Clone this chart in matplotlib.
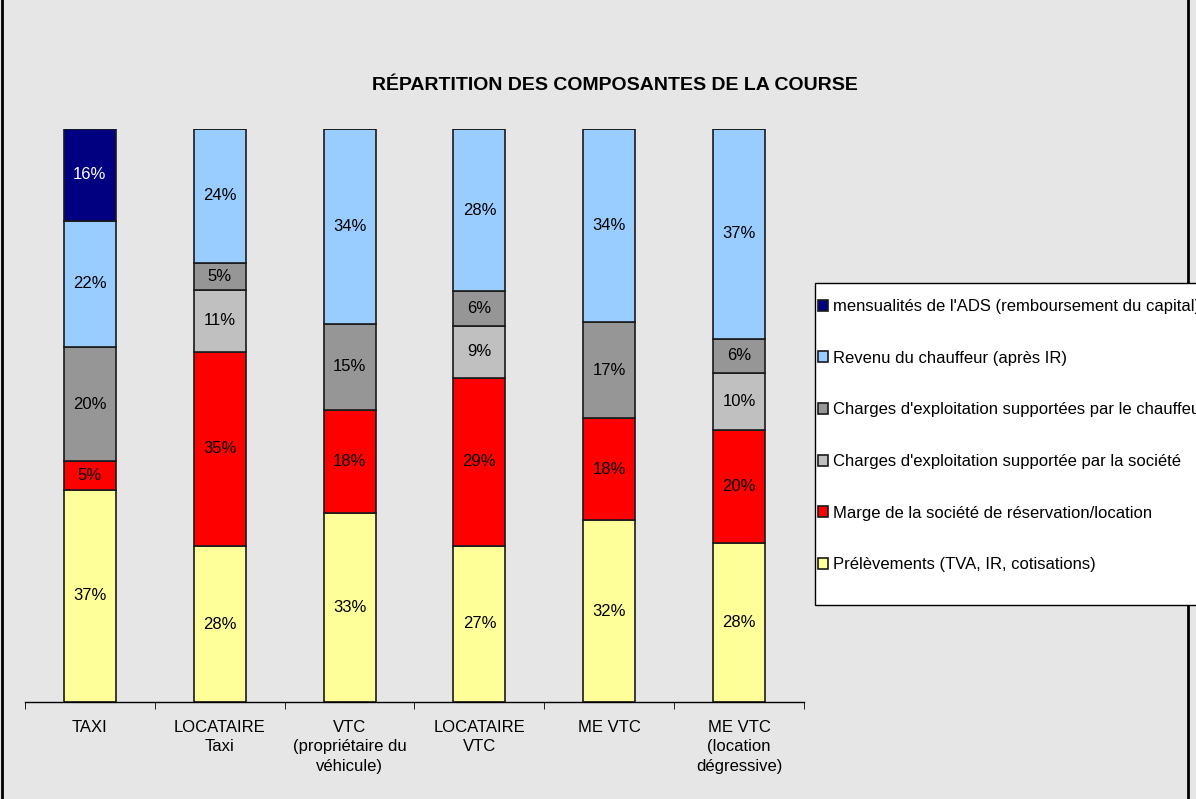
import matplotlib
matplotlib.use("Agg")
from matplotlib import pyplot as plt
from matplotlib.lines import Line2D
from matplotlib.patches import Rectangle
import numpy as np

plt.rcParams['font.family'] = ['Liberation Sans', 'DejaVu Sans']

# categories on the x axis
categories = ["TAXI", "LOCATAIRE\nTaxi", "VTC\n(propriétaire du\nvéhicule)",
              "LOCATAIRE\nVTC", "ME VTC", "ME VTC\n(location\ndégressive)"]

# series, bottom to top of the stack (values in %)
prelevements = [37, 28, 33, 27, 32, 28]
marge = [5, 35, 18, 29, 18, 20]
charges_societe = [0, 11, 0, 9, 0, 10]
charges_chauffeur = [20, 5, 15, 6, 17, 6]
revenu = [22, 24, 34, 28, 34, 37]
mensualites = [16, 0, 0, 0, 0, 0]

series_names = ["Prélèvements (TVA, IR, cotisations)",
                "Marge de la société de réservation/location",
                "Charges d'exploitation supportée par la société",
                "Charges d'exploitation supportées par le chauffeur",
                "Revenu du chauffeur (après IR)",
                "mensualités de l'ADS (remboursement du capital)"]
colors = ["#FFFF99", "#FF0000", "#C0C0C0", "#969696", "#99CCFF", "#000080"]
label_colors = ["black", "black", "black", "black", "black", "white"]

data = np.array([prelevements, marge, charges_societe, charges_chauffeur,
                 revenu, mensualites], dtype=float)
totals = data.sum(axis=0)
shares = data / totals  # 100% stacked, like the spreadsheet does

W, H = 1196, 799
fig = plt.figure(figsize=(W / 100, H / 100), dpi=100)
fig.patch.set_facecolor("#E6E6E6")

ax = fig.add_axes([25 / W, (H - 702) / H, (804 - 25) / W, (702 - 129) / H])
ax.set_facecolor("#E6E6E6")

x = np.arange(len(categories))
bottom = np.zeros(len(categories))
bars = []
for i in range(len(series_names)):
    b = ax.bar(x, shares[i], 0.4, bottom=bottom, color=colors[i],
               edgecolor="#1a1a1a", linewidth=1.2, label=series_names[i])
    bars.append(b)
    for j in range(len(categories)):
        if data[i, j] > 0:
            ax.text(x[j], bottom[j] + shares[i, j] / 2, "%d%%" % data[i, j],
                    ha="center", va="center", fontsize=12,
                    color=label_colors[i])
    bottom += shares[i]

ax.set_xlim(-0.5, len(categories) - 0.5)
ax.set_ylim(0, 1)
for s in ["top", "right", "left"]:
    ax.spines[s].set_visible(False)
ax.spines["bottom"].set_linewidth(1)
ax.set_yticks([])
ax.set_xticks(x)
ax.set_xticklabels(categories, fontsize=12, linespacing=1.36)
ax.tick_params(axis="x", which="major", length=0, pad=13)
ax.set_xticks(np.arange(len(categories) + 1) - 0.5, minor=True)
ax.tick_params(axis="x", which="minor", length=5, direction="out")

fig.text(615 / W, (H - 86) / H, "RÉPARTITION DES COMPOSANTES DE LA COURSE",
         ha="center", va="center", fontsize=14, fontweight="bold")

# outer border lines (left and right only)
fig.add_artist(Line2D([2 / W, 2 / W], [0, 1], color="black", lw=2,
                      transform=fig.transFigure, zorder=1))
fig.add_artist(Line2D([1188 / W, 1188 / W], [0, 1], color="black", lw=2,
                      transform=fig.transFigure, zorder=1))

# legend box (runs past the right edge of the picture, as in the original)
fig.add_artist(Rectangle((815 / W, (H - 605) / H), 400 / W, (605 - 283) / H,
                         transform=fig.transFigure, facecolor="white",
                         edgecolor="black", linewidth=1, zorder=4))

handles = bars[::-1]
labels = series_names[::-1]
leg = fig.legend(handles, labels, loc="upper left",
                 bbox_to_anchor=(818 / W, (H - 299) / H),
                 fontsize=12, frameon=False,
                 labelspacing=2.2, handlelength=0.62, handleheight=0.62,
                 handletextpad=0.3, borderpad=0, borderaxespad=0)
leg.set_zorder(5)

fig.savefig("out.png", dpi=100, facecolor=fig.get_facecolor())
